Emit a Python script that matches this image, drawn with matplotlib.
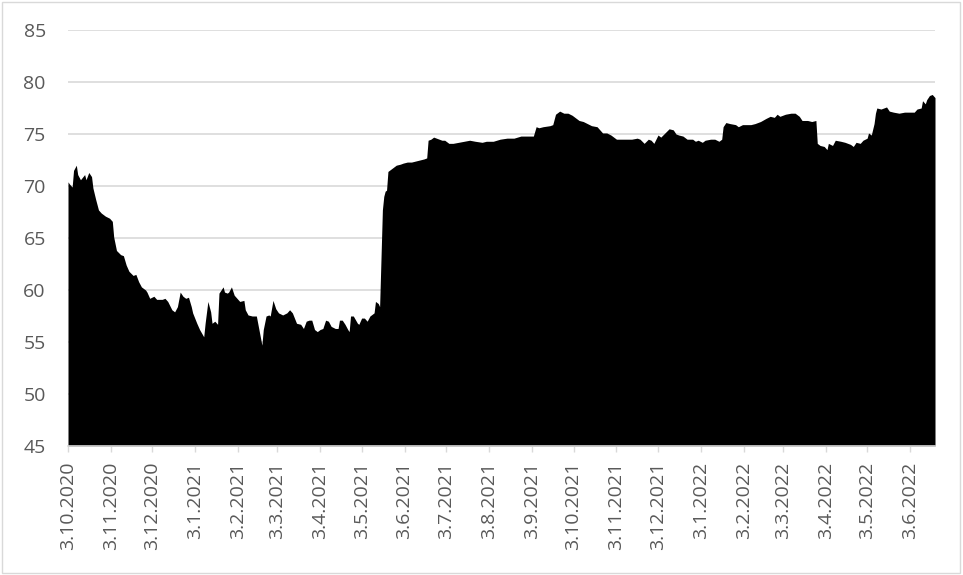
import numpy as np
import pandas as pd
import matplotlib
matplotlib.use('Agg')
import matplotlib.pyplot as plt
import matplotlib.dates as mdates
from matplotlib.patches import Rectangle

# days counted from 3.10.2020, and the value on that day
start = '2020-10-03'
days = [0, 1, 3, 4, 6, 7, 9, 12, 13, 15, 17, 18, 20, 22, 24, 27, 30, 32, 33, 35,
        38, 40, 42, 44, 47, 49, 51, 53, 56, 57, 59, 62, 64, 68, 70, 72, 75, 77, 79, 81,
        83, 85, 87, 89, 90, 93, 95, 98, 99, 101, 103, 104, 106, 108, 109, 112, 113, 115, 116, 118,
        120, 122, 124, 127, 128, 130, 133, 136, 137, 139, 140, 141, 143, 145, 146, 148, 150, 152, 155, 158,
        160, 162, 165, 168, 170, 172, 174, 176, 178, 180, 182, 184, 186, 188, 190, 193, 195, 196, 198, 200,
        202, 203, 204, 206, 209, 210, 212, 214, 216, 218, 221, 222, 224, 225, 227, 228, 229, 230, 231, 233,
        235, 237, 240, 242, 245, 248, 251, 254, 257, 259, 260, 262, 264, 268, 270, 272, 275, 278, 282, 286,
        290, 294, 299, 302, 307, 312, 317, 322, 327, 331, 336, 338, 340, 343, 348, 350, 352, 354, 355, 358,
        361, 364, 366, 369, 372, 375, 378, 382, 384, 386, 389, 392, 394, 396, 400, 404, 407, 411, 413, 416,
        419, 421, 423, 426, 428, 431, 434, 437, 439, 441, 444, 447, 451, 453, 455, 458, 460, 464, 467, 470,
        472, 473, 475, 478, 482, 484, 487, 489, 493, 496, 500, 504, 507, 510, 512, 514, 518, 522, 525, 528,
        530, 534, 537, 540, 541, 543, 546, 548, 549, 552, 554, 558, 561, 565, 567, 569, 572, 574, 577, 578,
        580, 582, 583, 584, 587, 589, 591, 593, 596, 600, 604, 607, 611, 613, 616, 617, 619, 620, 622, 624,
        626]
values = [70.4, 70.2, 69.9, 71.5, 72.0, 71.1, 70.6, 71.1, 70.6, 71.3, 70.9, 69.8, 68.7, 67.7, 67.4, 67.1, 66.9, 66.6, 65.1, 63.8,
          63.4, 63.3, 62.4, 61.8, 61.4, 61.5, 60.8, 60.3, 60.0, 59.8, 59.2, 59.4, 59.1, 59.1, 59.2, 58.9, 58.1, 57.9, 58.4, 59.8,
          59.4, 59.2, 59.3, 58.4, 57.8, 56.8, 56.2, 55.5, 56.8, 58.9, 57.9, 56.8, 57.0, 56.7, 59.7, 60.3, 59.8, 59.7, 59.8, 60.3,
          59.5, 59.2, 58.9, 59.0, 58.1, 57.6, 57.5, 57.5, 56.8, 55.4, 54.7, 56.2, 57.5, 57.6, 57.5, 59.0, 58.2, 57.8, 57.6, 57.8,
          58.1, 57.8, 56.8, 56.7, 56.3, 57.0, 57.1, 57.1, 56.2, 56.0, 56.2, 56.3, 57.1, 57.0, 56.5, 56.3, 56.3, 57.1, 57.1, 56.7,
          56.2, 56.0, 57.5, 57.5, 56.8, 56.7, 57.3, 57.3, 57.0, 57.5, 57.8, 58.9, 58.7, 58.4, 67.7, 69.0, 69.5, 69.6, 71.4, 71.6,
          71.8, 72.0, 72.1, 72.2, 72.3, 72.3, 72.4, 72.5, 72.6, 72.7, 74.4, 74.5, 74.7, 74.5, 74.4, 74.4, 74.1, 74.1, 74.2, 74.3,
          74.4, 74.3, 74.2, 74.3, 74.3, 74.5, 74.6, 74.6, 74.8, 74.8, 74.8, 75.7, 75.6, 75.7, 75.8, 75.9, 76.9, 77.1, 77.2, 77.0,
          77.0, 76.8, 76.6, 76.3, 76.2, 76.0, 75.8, 75.7, 75.4, 75.1, 75.1, 74.9, 74.7, 74.5, 74.5, 74.5, 74.5, 74.6, 74.5, 74.1,
          74.5, 74.4, 74.1, 74.9, 74.7, 75.1, 75.5, 75.4, 75.0, 74.9, 74.8, 74.5, 74.5, 74.3, 74.4, 74.2, 74.4, 74.5, 74.5, 74.3,
          74.5, 75.7, 76.1, 76.0, 75.9, 75.7, 75.9, 75.9, 75.9, 76.0, 76.2, 76.5, 76.7, 76.6, 76.9, 76.7, 76.9, 77.0, 77.0, 76.7,
          76.3, 76.3, 76.2, 76.3, 74.1, 73.9, 73.8, 73.5, 74.1, 73.9, 74.4, 74.3, 74.2, 74.0, 73.8, 74.2, 74.1, 74.4, 74.6, 75.1,
          74.9, 76.0, 77.0, 77.5, 77.4, 77.5, 77.6, 77.2, 77.1, 77.0, 77.1, 77.1, 77.1, 77.4, 77.5, 78.2, 77.9, 78.3, 78.7, 78.8,
          78.5]

dates = pd.Timestamp(start) + pd.to_timedelta(days, unit='D')

plt.rcParams['font.family'] = ['Open Sans', 'DejaVu Sans']

fig = plt.figure(figsize=(9.63, 5.75), dpi=100)
ax = fig.add_axes([68 / 963, 1 - 446 / 575, (935 - 68) / 963, (446 - 30) / 575])

ax.fill_between(dates, 45, values, color='black', linewidth=0, zorder=2)

ax.set_ylim(45, 85)
ax.set_yticks(np.arange(45, 86, 5))
ax.set_xlim(dates[0], dates[-1])
ax.yaxis.grid(True, color='#d9d9d9', linewidth=1.2, zorder=0)
ax.set_axisbelow(True)

ax.xaxis.set_major_locator(mdates.MonthLocator(bymonthday=3))
ax.xaxis.set_major_formatter(plt.FuncFormatter(
    lambda x, pos: '{0.day}.{0.month}.{0.year}'.format(mdates.num2date(x))))

for s in ['top', 'right', 'left']:
    ax.spines[s].set_visible(False)
ax.spines['bottom'].set_color('#d9d9d9')
ax.spines['bottom'].set_linewidth(1.2)

ax.tick_params(axis='y', length=0, pad=16, labelsize=14, labelcolor='#595959')
ax.tick_params(axis='x', length=4.3, width=1, color='#d9d9d9', pad=7,
               labelsize=14, labelcolor='#595959', labelrotation=90)

fig.patches.append(Rectangle((2 / 963, 2 / 575), 958 / 963, 571 / 575, transform=fig.transFigure,
                             fill=False, edgecolor='#d9d9d9', linewidth=1))

plt.savefig('out.png', dpi=100)
